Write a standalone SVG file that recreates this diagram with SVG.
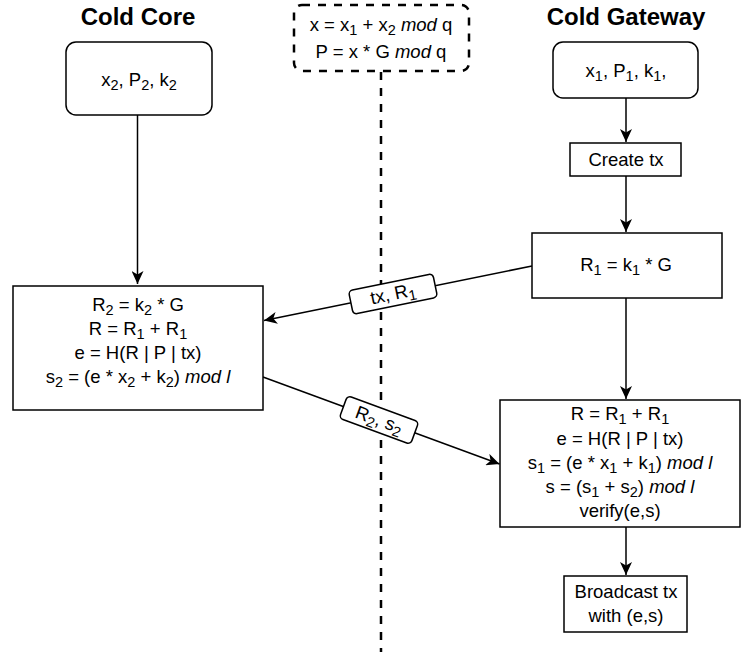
<svg xmlns="http://www.w3.org/2000/svg" width="742" height="652" viewBox="0 0 742 652">
<defs>
<style>
text{font-family:"Liberation Sans",Arial,sans-serif;font-size:18.5px;fill:#000;text-anchor:middle}
.title{font-weight:bold;font-size:24px}
.s{font-size:14.5px;baseline-shift:-4px}
.i{font-style:italic}
.box{fill:#fff;stroke:#000;stroke-width:1.5}
.edge{fill:none;stroke:#000;stroke-width:1.5}
.dash{fill:none;stroke:#000;stroke-width:2.5;stroke-dasharray:8 8}
</style>
<marker id="arr" markerUnits="userSpaceOnUse" markerWidth="14" markerHeight="12" refX="13" refY="6" orient="auto" viewBox="0 0 14 12">
<path d="M0,0 L13,6 L0,12 L3.5,6 Z" fill="#000"/>
</marker>
</defs>
<rect width="742" height="652" fill="#fff"/>
<text class="title" x="138" y="25">Cold Core</text>
<text class="title" x="626" y="25">Cold Gateway</text>

<g id="separator">
<path class="dash" d="M381,72 V652"/>
</g>
<g id="params">
<rect x="294" y="5" width="175" height="66" rx="8" class="dash" style="fill:#fff"/>
<text x="381" y="31">x = x<tspan class="s">1</tspan> + x<tspan class="s">2</tspan> <tspan class="i">mod</tspan> q</text>
<text x="381" y="58">P = x * G <tspan class="i">mod</tspan> q</text>
</g>

<g id="connectors">
<path class="edge" d="M137.5,115 V284" marker-end="url(#arr)"/>
<path class="edge" d="M626,98 V142" marker-end="url(#arr)"/>
<path class="edge" d="M626,176 V232" marker-end="url(#arr)"/>
<path class="edge" d="M626,298 V399" marker-end="url(#arr)"/>
<path class="edge" d="M626,527 V575" marker-end="url(#arr)"/>
<path class="edge" d="M532,266 L264,320.5" marker-end="url(#arr)"/>
<path class="edge" d="M263,377 L499.5,464" marker-end="url(#arr)"/>
</g>

<g id="label-tx-r1" transform="translate(393,294) rotate(-11.6)">
<rect x="-43" y="-12" width="86" height="24" rx="4" class="box"/>
<text x="0" y="6">tx, R<tspan class="s">1</tspan></text>
</g>
<g id="label-r2-s2" transform="translate(379,420) rotate(20.2)">
<rect x="-38" y="-12" width="76" height="24" rx="4" class="box"/>
<text x="0" y="6">R<tspan class="s">2</tspan>, s<tspan class="s">2</tspan></text>
</g>

<g id="core-keys">
<rect x="66" y="42" width="146" height="73" rx="10" class="box"/>
<text x="139" y="86">x<tspan class="s">2</tspan>, P<tspan class="s">2</tspan>, k<tspan class="s">2</tspan></text>
</g>
<g id="core-sign">
<rect x="13" y="286" width="250" height="124" class="box"/>
<text x="138" y="311">R<tspan class="s">2</tspan> = k<tspan class="s">2</tspan> * G</text>
<text x="138" y="335">R = R<tspan class="s">1</tspan> + R<tspan class="s">1</tspan></text>
<text x="138" y="359">e = H(R | P | tx)</text>
<text x="138" y="383">s<tspan class="s">2</tspan> = (e * x<tspan class="s">2</tspan> + k<tspan class="s">2</tspan>) <tspan class="i">mod l</tspan></text>
</g>
<g id="gw-keys">
<rect x="553" y="42" width="145" height="56" rx="10" class="box"/>
<text x="626" y="77">x<tspan class="s">1</tspan>, P<tspan class="s">1</tspan>, k<tspan class="s">1</tspan>,</text>
</g>
<g id="gw-create">
<rect x="570" y="143" width="111" height="33" class="box"/>
<text x="626" y="166">Create tx</text>
</g>
<g id="gw-r1">
<rect x="532" y="233" width="190" height="65" class="box"/>
<text x="626" y="271">R<tspan class="s">1</tspan> = k<tspan class="s">1</tspan> * G</text>
</g>
<g id="gw-sign">
<rect x="500" y="400" width="240" height="127" class="box"/>
<text x="620" y="420">R = R<tspan class="s">1</tspan> + R<tspan class="s">1</tspan></text>
<text x="620" y="445">e = H(R | P | tx)</text>
<text x="620" y="469">s<tspan class="s">1</tspan> = (e * x<tspan class="s">1</tspan> + k<tspan class="s">1</tspan>) <tspan class="i">mod l</tspan></text>
<text x="620" y="493">s = (s<tspan class="s">1</tspan> + s<tspan class="s">2</tspan>) <tspan class="i">mod l</tspan></text>
<text x="620" y="517">verify(e,s)</text>
</g>
<g id="gw-broadcast">
<rect x="564" y="576" width="123" height="56" class="box"/>
<text x="626" y="598">Broadcast tx</text>
<text x="626" y="622">with (e,s)</text>
</g>
</svg>
